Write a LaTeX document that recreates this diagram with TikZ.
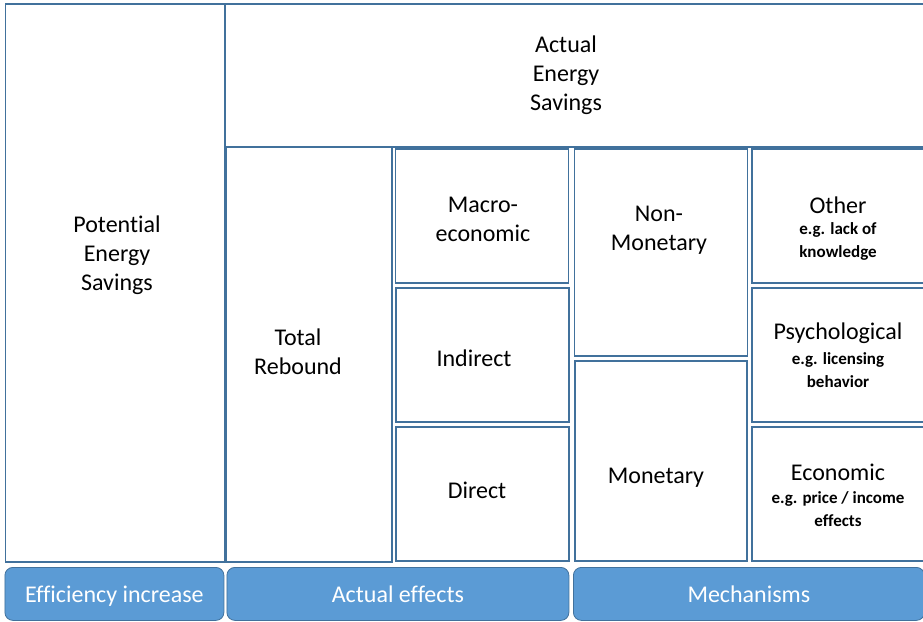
\documentclass[tikz,border=0pt]{standalone}
\usepackage{fontspec}
\setmainfont{Carlito}[Ligatures=CommonOff]
\usetikzlibrary{positioning}

\definecolor{cellblue}{RGB}{65,113,156}
\definecolor{barblue}{RGB}{91,155,213}

\begin{document}
\begin{tikzpicture}[x=1pt, y=-1pt,
    cell/.style 2 args={draw=cellblue, line width=1.7pt, minimum width=#1, minimum height=#2, inner sep=0pt, anchor=north west},
    bar/.style={draw=cellblue, fill=barblue, line width=0.8pt, rounded corners=8pt, minimum height=53, inner sep=0pt, text height=20pt, text depth=2pt, anchor=north west, text=white, font=\fontsize{24}{29}\selectfont},
    lbl/.style={align=center, inner sep=0pt, font=\fontsize{24}{29}\selectfont},
    exlbl/.style={align=center, inner sep=0pt, font=\bfseries\fontsize{17}{23}\selectfont}]
    \useasboundingbox (0,0) rectangle (923,621);
    \clip (0,0) rectangle (923,621);

    % cells
    \node[cell={219}{558}] (pot) at (4.5,3) {};
    \node[cell={716}{143}] (savings) at (224.5,3) {};
    \node[cell={166}{415}] (rebound) at (225,146) {};
    \node[cell={173}{134}] (macro) at (394.5,148) {};
    \node[cell={173}{134}] (indirect) at (395,287) {};
    \node[cell={173}{134}] (direct) at (395,426) {};
    \node[cell={173}{207}] (nonmon) at (573.5,148) {};
    \node[cell={172}{200}] (mon) at (574,360) {};
    \node[cell={190}{134}] (other) at (751,148) {};
    \node[cell={190}{134}] (psych) at (751,287) {};
    \node[cell={190}{134}] (econ) at (751,426) {};

    % labels
    \node[lbl] (potT) at (117,255) {Potential\\Energy\\Savings};
    \node[lbl] (savingsT) at (566,75) {Actual\\Energy\\Savings};
    \node[lbl] (reboundT) at (298,352) {Total\\Rebound};
    \node[lbl] (macroT) at (483,219) {Macro-\\economic};
    \node[lbl] (indirectT) at (474,358) {Indirect};
    \node[lbl] (directT) at (477,490) {Direct};
    \node[lbl] (nonmonT) at (659,230) {Non-\\Monetary};
    \node[lbl] (monT) at (656,478) {Monetary};
    \node[lbl] (otherT) at (838,205) {Other};
    \node[exlbl] (otherE) at (838,241.5) {e.g. lack of\\knowledge};
    \node[lbl] (psychT) at (838,333) {Psychological};
    \node[exlbl] (psychE) at (838,370.5) {e.g. licensing\\behavior};
    \node[lbl] (econT) at (838,472) {Economic};
    \node[exlbl] (econE) at (838,509.5) {e.g. price / income\\effects};

    % bottom bars
    \node[bar, minimum width=219] (effbar) at (4.5,567) {Efficiency increase};
    \node[bar, minimum width=342] (actbar) at (226.5,567) {Actual effects};
    \node[bar, minimum width=351] (mechbar) at (573,567) {Mechanisms};
\end{tikzpicture}
\end{document}
